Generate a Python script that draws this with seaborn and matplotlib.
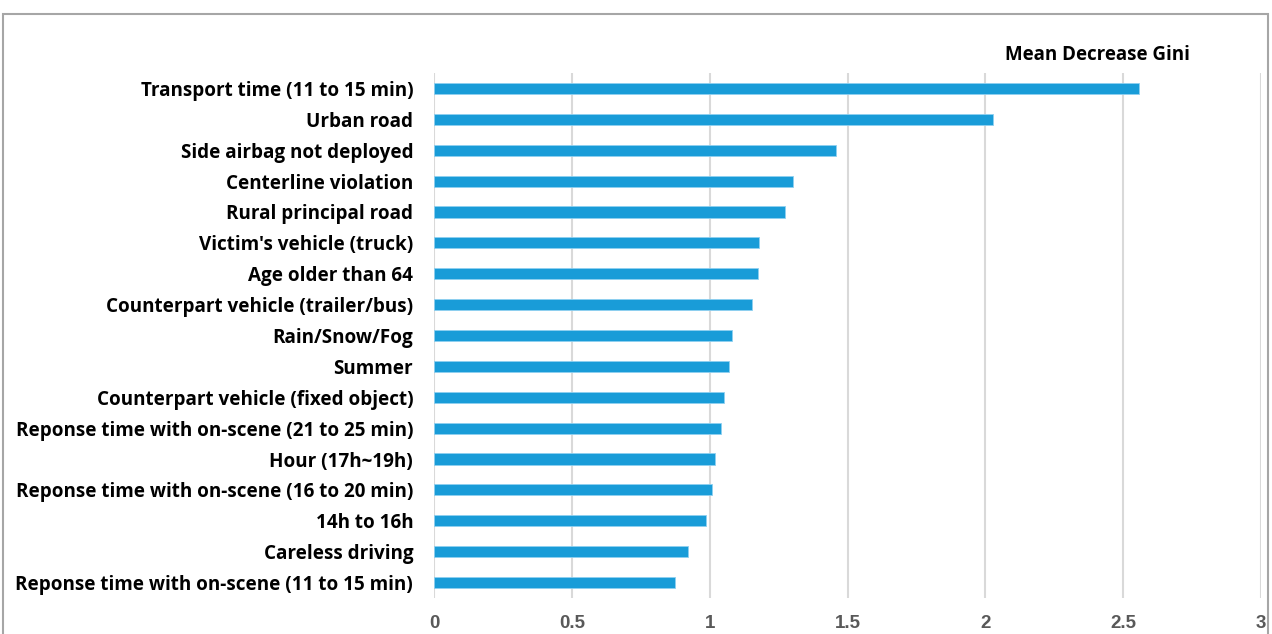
import matplotlib
matplotlib.use("Agg")
import matplotlib.pyplot as plt
import seaborn as sns
import pandas as pd
from matplotlib.patches import Rectangle

# Variable importance from the random forest model
features = [
    "Transport time (11 to 15 min)",
    "Urban road",
    "Side airbag not deployed",
    "Centerline violation",
    "Rural principal road",
    "Victim's vehicle (truck)",
    "Age older than 64",
    "Counterpart vehicle (trailer/bus)",
    "Rain/Snow/Fog",
    "Summer",
    "Counterpart vehicle (fixed object)",
    "Reponse time with on-scene (21 to 25 min)",
    "Hour (17h~19h)",
    "Reponse time with on-scene (16 to 20 min)",
    "14h to 16h",
    "Careless driving",
    "Reponse time with on-scene (11 to 15 min)",
]
gini = [2.557, 2.028, 1.458, 1.302, 1.274, 1.179, 1.175, 1.153, 1.082,
        1.071, 1.053, 1.040, 1.018, 1.007, 0.985, 0.922, 0.875]
xticks = [0, 0.5, 1, 1.5, 2, 2.5, 3]
xtick_labels = ["0", "0.5", "1", "1.5", "2", "2.5", "3"]

df = pd.DataFrame({"feature": features, "gini": gini})

sns.set_theme(style="white")
plt.rcParams["font.family"] = ["Open Sans", "DejaVu Sans"]

fig = plt.figure(figsize=(12.72, 6.34), dpi=100)
ax = fig.add_axes([434 / 1272, 1 - 598 / 634, (1261 - 434) / 1272, (598 - 73) / 634])

sns.barplot(data=df, x="gini", y="feature", orient="h", color="#199cd8",
            saturation=1, width=0.36, ax=ax, edgecolor="#8fd0f0", linewidth=0.6)

ax.set_xlim(0, 3)
ax.set_ylim(len(features) - 0.5, -0.5)
ax.set_xticks(xticks)
ax.set_xticklabels(xtick_labels, fontfamily="Liberation Sans", fontweight="bold",
                   fontsize=13.5, color="#595959")
ax.set_yticks(range(len(features)))
ax.set_yticklabels(features, fontweight="bold", fontsize=13.6, color="black")
ax.tick_params(axis="x", length=0, pad=12)
ax.tick_params(axis="y", length=0, pad=15)
ax.set_xlabel("")
ax.set_ylabel("")
ax.xaxis.grid(True, color="#d9d9d9", linewidth=1.5)
ax.yaxis.grid(False)
ax.set_axisbelow(True)
for s in ax.spines.values():
    s.set_visible(False)

fig.text(1097 / 1272, 1 - 55 / 634, "Mean Decrease Gini", ha="center", va="center",
         fontsize=13.5, fontweight="bold", color="black")

# Outer frame around the chart area
fig.patches.append(Rectangle((3 / 1272, -0.05), (1268 - 3) / 1272, 1.05 - 14 / 634,
                             transform=fig.transFigure, fill=False,
                             edgecolor="#a6a6a6", linewidth=1.5))

fig.savefig("out.png", dpi=100)
